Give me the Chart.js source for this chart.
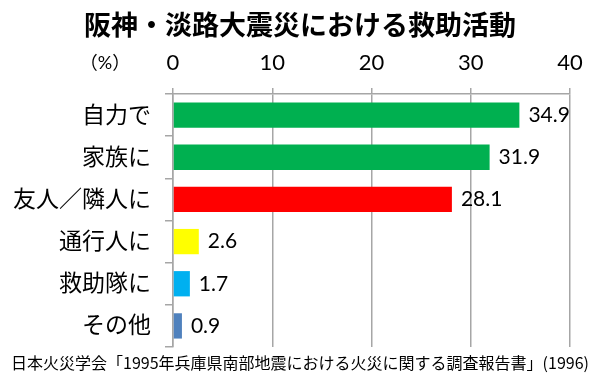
<!DOCTYPE html>
<html>
<head>
<meta charset="utf-8">
<script src="https://cdn.jsdelivr.net/npm/chart.js@4"></script>
<style>
html, body { margin: 0; padding: 0; background: #fff; }
#wrap { width: 600px; height: 382px; }
</style>
</head>
<body>
<div id="wrap"><canvas id="barChart"></canvas></div>
<script>
var chartTitle = '阪神・淡路大震災における救助活動';
var sourceNote = '日本火災学会「1995年兵庫県南部地震における火災に関する調査報告書」(1996)';
var unitLabel = '（%）';
var categories = ['自力で', '家族に', '友人／隣人に', '通行人に', '救助隊に', 'その他'];
var values = [34.9, 31.9, 28.1, 2.6, 1.7, 0.9];
var barColors = ['#00b050', '#00b050', '#ff0000', '#ffff00', '#00b0f0', '#4f81bd'];
var xTicks = [0, 10, 20, 30, 40];

var baseFont = "Lato, 'Noto Sans CJK JP', sans-serif";
var cjkFont = "'Noto Sans CJK JP', sans-serif";
var gridColor = '#a6a6a6';

// title, source note, unit label and the value next to each bar
var extraText = {
    id: 'extraText',
    afterDatasetsDraw: function (chart) {
        'use strict';

        var ctx = chart.ctx;
        var meta = chart.getDatasetMeta(0);
        var mid = chart.width / 2;

        ctx.save();
        ctx.fillStyle = '#000';
        ctx.font = '21px ' + baseFont;
        ctx.textAlign = 'left';
        ctx.textBaseline = 'middle';
        meta.data.forEach(function (bar, i) {
            ctx.fillText(values[i].toFixed(1), bar.x + 9, bar.y);
        });

        var xScale = chart.scales.x;
        var labelY = xScale.bottom - 6 - 12 - 13;
        ctx.font = '18px ' + baseFont;
        ctx.textAlign = 'center';
        ctx.fillText(unitLabel, 105, labelY);

        ctx.font = 'bold 27px ' + cjkFont;
        ctx.fillText(chartTitle, mid, 25);

        ctx.font = '16px ' + cjkFont;
        ctx.fillText(sourceNote, mid, 363);
        ctx.restore();
    }
};

var ctx = document.getElementById('barChart').getContext('2d');
var barChart = new Chart(ctx, {
    type: 'bar',
    data: {
        labels: categories,
        datasets: [{
            data: values,
            backgroundColor: barColors,
            borderWidth: 0,
            barPercentage: 0.6,
            categoryPercentage: 1
        }]
    },
    options: {
        indexAxis: 'y',
        responsive: true,
        maintainAspectRatio: false,
        animation: false,
        layout: {
            padding: { left: 0, right: 30, top: 50, bottom: 35 }
        },
        scales: {
            x: {
                position: 'top',
                min: 0,
                max: 40,
                afterBuildTicks: function (axis) {
                    axis.ticks = xTicks.map(function (v) { return { value: v }; });
                },
                afterFit: function (axis) {
                    axis.height = 44;
                },
                ticks: {
                    font: { family: baseFont, size: 22 },
                    color: '#000',
                    padding: 12
                },
                grid: {
                    color: gridColor,
                    lineWidth: 1.5,
                    tickLength: 6
                },
                border: { color: gridColor, width: 1.5 }
            },
            y: {
                afterFit: function (axis) {
                    axis.width = 173;
                },
                ticks: {
                    font: { family: baseFont, size: 23 },
                    color: '#000',
                    padding: 14
                },
                grid: {
                    drawOnChartArea: false,
                    offset: true,
                    tickLength: 8,
                    color: gridColor,
                    lineWidth: 1.5
                },
                border: { color: gridColor, width: 1.5 }
            }
        },
        plugins: {
            legend: { display: false },
            tooltip: { enabled: false },
            title: { display: false }
        }
    },
    plugins: [extraText]
});
</script>
</body>
</html>
